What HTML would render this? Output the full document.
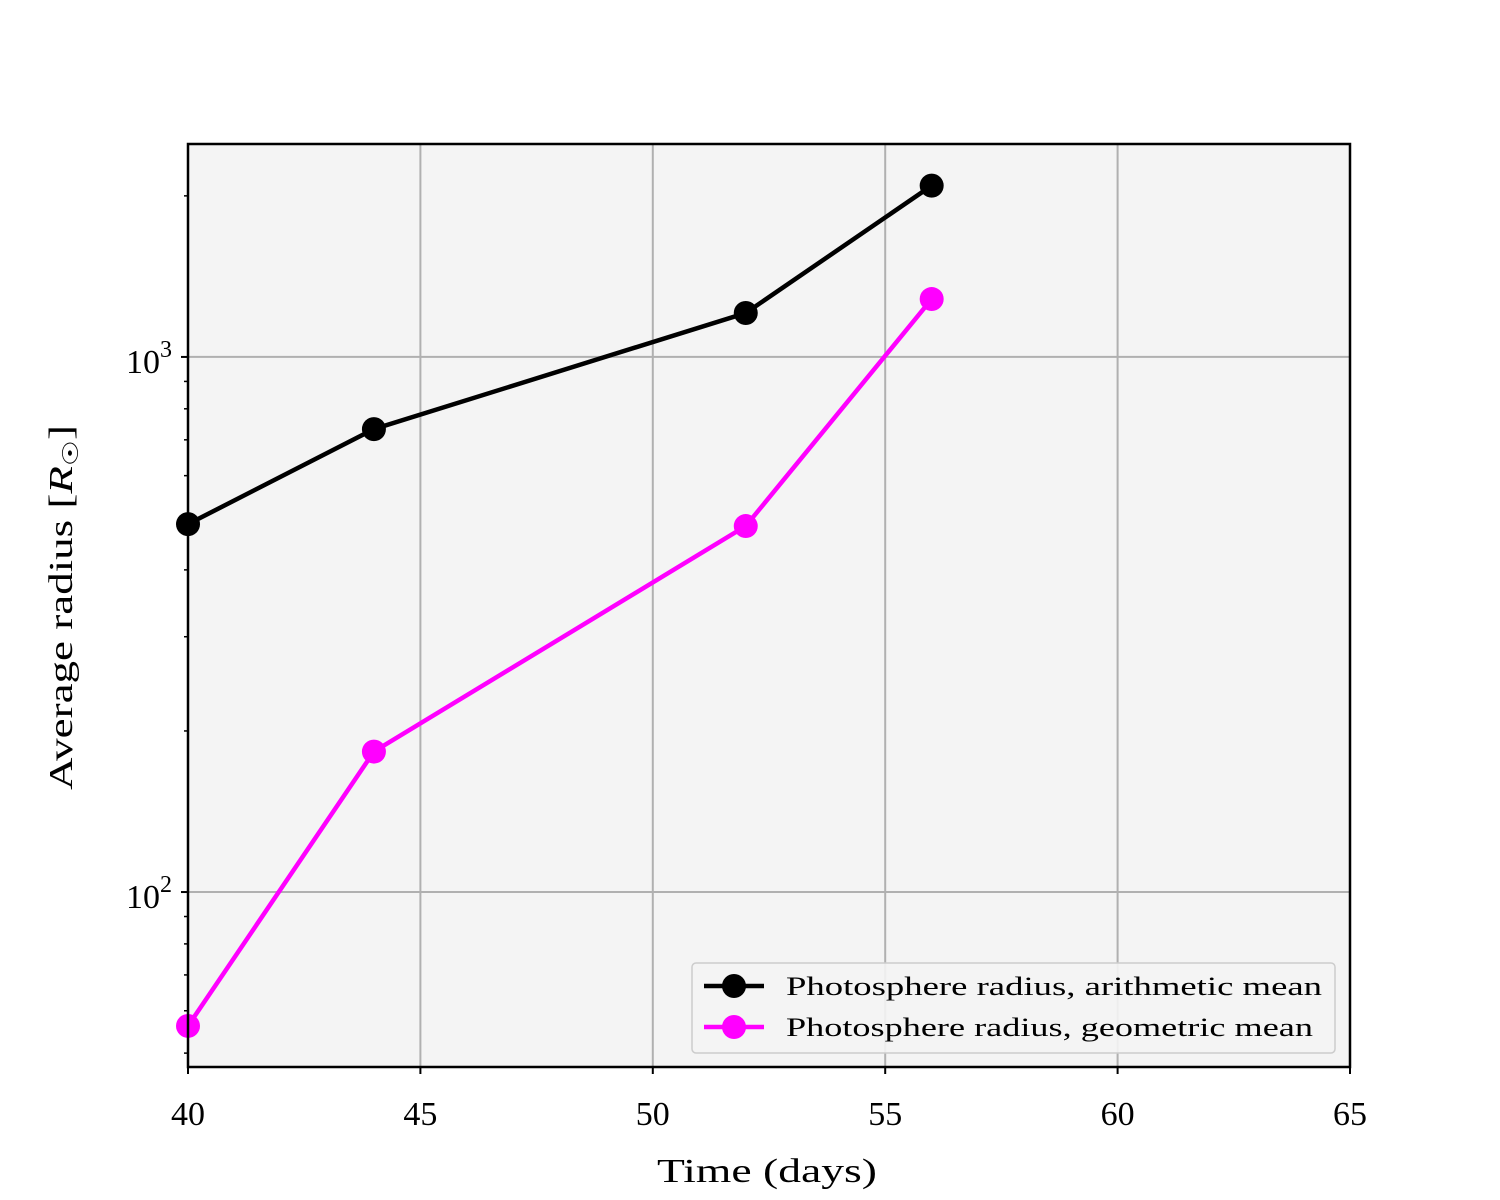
<!DOCTYPE html>
<html><head><meta charset="utf-8"><style>
body{margin:0;background:#fff}
svg{display:block}
text{font-family:"Liberation Serif","DejaVu Serif",serif;fill:#000}
</style></head><body>
<svg id="chart" width="1500" height="1200" viewBox="0 0 1500 1200" xmlns="http://www.w3.org/2000/svg">
<rect x="188" y="144" width="1162" height="923" fill="#f4f4f4"/>
<g id="grid"></g>
<g id="series"></g>
<rect x="188" y="144" width="1162" height="923" fill="none" stroke="#000" stroke-width="2.5"/>
<g id="ticks"></g>
<text x="657" y="1182" font-size="34" textLength="220" lengthAdjust="spacingAndGlyphs">Time (days)</text>
<text transform="translate(72,790) rotate(-90)" font-size="34" textLength="365" lengthAdjust="spacingAndGlyphs">Average radius [<tspan font-style="italic">R</tspan><tspan font-size="22" dy="6">☉</tspan><tspan dy="-6">]</tspan></text>
<g>
<rect x="692" y="963" width="643" height="90" rx="4" fill="#f4f4f4" fill-opacity="0.9" stroke="#ccc" stroke-width="1.5"/>
<g>
<line x1="704" y1="986" x2="764" y2="986" stroke="#000" stroke-width="4.5"/>
<circle cx="734" cy="986" r="12" fill="#000"/>
<text x="786" y="995" font-size="26" textLength="536" lengthAdjust="spacingAndGlyphs">Photosphere radius, arithmetic mean</text></g>
<g>
<line x1="704" y1="1027" x2="764" y2="1027" stroke="#ff00ff" stroke-width="4.5"/>
<circle cx="734" cy="1027" r="12" fill="#ff00ff"/>
<text x="786" y="1036" font-size="26" textLength="527" lengthAdjust="spacingAndGlyphs">Photosphere radius, geometric mean</text></g>
</g>
</svg>
<script>
const xTicks=[40,45,50,55,60,65];
const days=[40,44,52,56];
const arithmetic=[487,733,1208,2090];
const geometric=[56.2,183,483,1283];
const yMajor=[100,1000];
const NS="http://www.w3.org/2000/svg";
const X0=188,X1=1350,Y0=144,Y1=1067;
const xMin=40,xMax=65,yLogMin=Math.log10(47.1),yLogMax=Math.log10(2500);
function xs(v){return X0+(v-xMin)/(xMax-xMin)*(X1-X0);}
function ys(v){return Y1-(Math.log10(v)-yLogMin)/(yLogMax-yLogMin)*(Y1-Y0);}
function mk(tag,attrs,parent){const e=document.createElementNS(NS,tag);for(const k in attrs)e.setAttribute(k,attrs[k]);parent.appendChild(e);return e;}
const grid=document.getElementById('grid'),ticks=document.getElementById('ticks'),series=document.getElementById('series');
xTicks.forEach(t=>{const x=xs(t);
 const g=mk('line',{x1:x,x2:x,y1:Y0,y2:Y1,stroke:'#b0b0b0','stroke-width':2},grid);
 
 
 mk('line',{x1:x,x2:x,y1:Y1,y2:Y1+7,stroke:'#000','stroke-width':2},ticks);
 const l=mk('text',{x:x,y:Y1+58,'font-size':34,'text-anchor':'middle'},ticks);l.textContent=t;
 
 
});
yMajor.forEach(t=>{const y=ys(t);
 const g=mk('line',{x1:X0,x2:X1,y1:y,y2:y,stroke:'#b0b0b0','stroke-width':2},grid);
 
 
 mk('line',{x1:X0-7,x2:X0,y1:y,y2:y,stroke:'#000','stroke-width':2},ticks);
 const l=mk('text',{x:X0-16,y:y+16,'font-size':34,'text-anchor':'end'},ticks);
 
 
 l.innerHTML='10<tspan font-size="24" dy="-16">'+Math.round(Math.log10(t))+'</tspan>';
});
for(let d=10;d<=1000;d*=10){for(let m=2;m<=9;m++){const v=m*d;if(v<47.1||v>2500)continue;const y=ys(v);
 const t=mk('line',{x1:X0-4,x2:X0,y1:y,y2:y,stroke:'#000','stroke-width':1.5},ticks);
 
 }}
function draw(vals,color,name){
 const p=mk('polyline',{points:days.map((d,i)=>xs(d)+','+ys(vals[i])).join(' '),fill:'none',stroke:color,'stroke-width':4.5},series);
 
 
 days.forEach((d,i)=>{const c=mk('circle',{cx:xs(d),cy:ys(vals[i]),r:12,fill:color},series);
  
  });
}
draw(arithmetic,'#000','arithmetic-mean');
draw(geometric,'#ff00ff','geometric-mean');
</script>
</body></html>
